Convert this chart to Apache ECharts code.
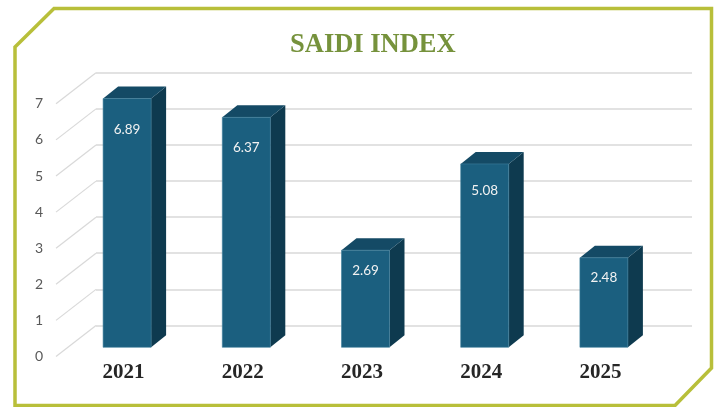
<!DOCTYPE html>
<html>
<head>
<meta charset="utf-8">
<script src="https://cdn.jsdelivr.net/npm/echarts@6/dist/echarts.min.js"></script>
<style>
  html, body { margin: 0; padding: 0; background: #fff; }
  #chart { width: 717px; height: 407px; }
</style>
</head>
<body>
<div id="chart"></div>
<script>
const years = ["2021", "2022", "2023", "2024", "2025"]
const saidi = [6.89, 6.37, 2.69, 5.08, 2.48]
const yTicks = [0, 1, 2, 3, 4, 5, 6, 7]

// fake 3d: how far the back wall sits from the front plane, and the bar depth
const WALL_DX = 40, WALL_DY = -31
const BAR_DX = 11.5, BAR_DY = -9.2
const DEPTH_DX = 15, DEPTH_DY = -12
const BAR_W = 48

const chart = echarts.init(document.getElementById("chart"), null, { renderer: "canvas" })

const option = {
  backgroundColor: "#ffffff",
  animation: false,
  title: {
    text: "SAIDI INDEX",
    left: 290,
    top: 32,
    padding: 0,
    textStyle: {
      fontFamily: "Liberation Serif, Times New Roman, serif",
      fontWeight: "bold",
      fontSize: 26.5,
      color: "#76923c",
    },
  },
  grid: [
    // front plane (labels, bars)
    { left: 56, right: 65, top: 103.8, bottom: 50.5 },
    // back wall (gridlines)
    { left: 96, right: 25, top: 72.5, bottom: 81.5 },
  ],
  xAxis: [
    {
      type: "category",
      gridIndex: 0,
      data: years,
      axisLine: { show: false },
      axisTick: { show: false },
      axisLabel: {
        margin: 6,
        padding: [0, 0, 0, 16],
        fontFamily: "Liberation Serif, Times New Roman, serif",
        fontWeight: "bold",
        fontSize: 21,
        color: "#262626",
      },
    },
    { type: "category", gridIndex: 1, data: years, show: false },
  ],
  yAxis: [
    {
      type: "value",
      gridIndex: 0,
      min: 0,
      max: 7,
      interval: 1,
      axisLine: { show: false },
      axisTick: { show: false },
      splitLine: { show: false },
      axisLabel: { margin: 13, fontFamily: "Lato, sans-serif", fontSize: 14, color: "#595959" },
    },
    {
      type: "value",
      gridIndex: 1,
      min: 0,
      max: 7,
      interval: 1,
      axisLine: { show: false },
      axisTick: { show: false },
      axisLabel: { show: false },
      splitLine: { lineStyle: { color: "#d9d9d9", width: 1.5 } },
    },
  ],
  series: [
    {
      // side wall diagonals
      type: "custom",
      xAxisIndex: 0,
      yAxisIndex: 0,
      data: yTicks.map((t) => [0, t]),
      encode: { x: 0, y: 1 },
      silent: true,
      renderItem: (params, api) => {
        const x0 = params.coordSys.x
        const y = api.coord([0, api.value(1)])[1]
        return {
          type: "line",
          shape: { x1: x0, y1: y, x2: x0 + WALL_DX, y2: y + WALL_DY },
          style: { stroke: "#d9d9d9", lineWidth: 1.2 },
        }
      },
    },
    {
      type: "custom",
      xAxisIndex: 0,
      yAxisIndex: 0,
      data: saidi.map((v, i) => [i, v]),
      encode: { x: 0, y: 1 },
      renderItem: (params, api) => {
        const v = api.value(1)
        const top = api.coord([api.value(0), v])
        const base = api.coord([api.value(0), 0])
        const l = top[0] + BAR_DX - BAR_W / 2
        const r = l + BAR_W
        const t = top[1] + BAR_DY
        const b = base[1] + BAR_DY
        return {
          type: "group",
          children: [
            {
              type: "polygon",
              shape: { points: [[r, t], [r + DEPTH_DX, t + DEPTH_DY], [r + DEPTH_DX, b + DEPTH_DY], [r, b]] },
              style: { fill: "#0e3a4f" },
            },
            {
              type: "polygon",
              shape: { points: [[l, t], [l + DEPTH_DX, t + DEPTH_DY], [r + DEPTH_DX, t + DEPTH_DY], [r, t]] },
              style: { fill: "#144a65" },
            },
            {
              type: "rect",
              shape: { x: l, y: t, width: BAR_W, height: b - t },
              style: { fill: "#1b5f7f", stroke: "#3f7f9c", lineWidth: 0.6 },
            },
            {
              type: "text",
              style: {
                x: (l + r) / 2,
                y: t + 14 + 2.5 * v,
                text: v.toFixed(2),
                align: "center",
                verticalAlign: "middle",
                fill: "#f2f2f2",
                font: "13.5px Lato, sans-serif",
              },
            },
          ],
        }
      },
    },
  ],
  graphic: [
    {
      type: "polygon",
      z: 100,
      silent: true,
      shape: { points: [[15, 47], [54, 8.5], [711.5, 8.5], [711.5, 368], [675, 405.5], [15, 405.5]] },
      style: { fill: "none", stroke: "#b8bf3a", lineWidth: 3.5 },
    },
  ],
}

chart.setOption(option)
window.addEventListener("resize", () => chart.resize())
</script>
</body>
</html>
